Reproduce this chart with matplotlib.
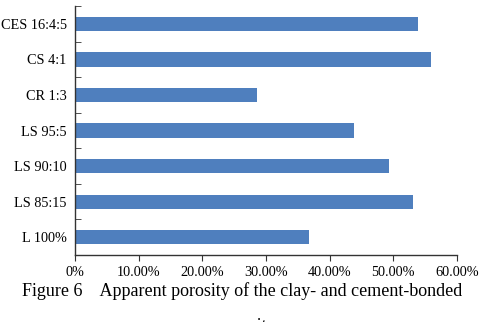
import matplotlib.pyplot as plt
from matplotlib.ticker import FuncFormatter

categories = ['L 100%', 'LS 85:15', 'LS 90:10', 'LS 95:5', 'CR 1:3', 'CS 4:1', 'CES 16:4:5']
porosity = [0.368, 0.531, 0.494, 0.438, 0.286, 0.559, 0.539]
xticks = [0, 0.1, 0.2, 0.3, 0.4, 0.5, 0.6]

plt.rcParams['font.family'] = ['Liberation Serif', 'DejaVu Serif']

fig = plt.figure(figsize=(4.87, 3.22), dpi=100)
ax = fig.add_axes([0.154, 0.208, 0.784, 0.773])

ax.barh(range(len(categories)), porosity, height=0.4, color='#4f7fbe')
ax.set_ylim(-0.5, len(categories) - 0.5)
ax.set_xlim(0, 0.6)
ax.set_xticks(xticks)
ax.xaxis.set_major_formatter(FuncFormatter(lambda v, p: '0%' if v == 0 else f'{v*100:.2f}%'))
ax.set_yticks(range(len(categories)))
ax.set_yticklabels(categories)
ax.set_yticks([i + 0.5 for i in range(-1, len(categories))], minor=True)

for s in ['top', 'right']:
    ax.spines[s].set_visible(False)
for s in ['left', 'bottom']:
    ax.spines[s].set_color('#333333')
    ax.spines[s].set_linewidth(1.0)

ax.tick_params(axis='y', which='major', length=0, labelsize=10.3, pad=6)
ax.tick_params(axis='y', which='minor', length=4, direction='in', color='#333333')
ax.tick_params(axis='x', length=4, direction='out', labelsize=10.3, color='#333333', pad=4)

fig.text(0.497, 0.095, 'Figure 6    Apparent porosity of the clay- and cement-bonded',
         ha='center', va='center', fontsize=13)
# second caption line is cut by the bottom edge in the original
fig.text(0.497, -0.027, 'composites', ha='center', va='baseline', fontsize=13)

fig.savefig('out.png', dpi=100)
